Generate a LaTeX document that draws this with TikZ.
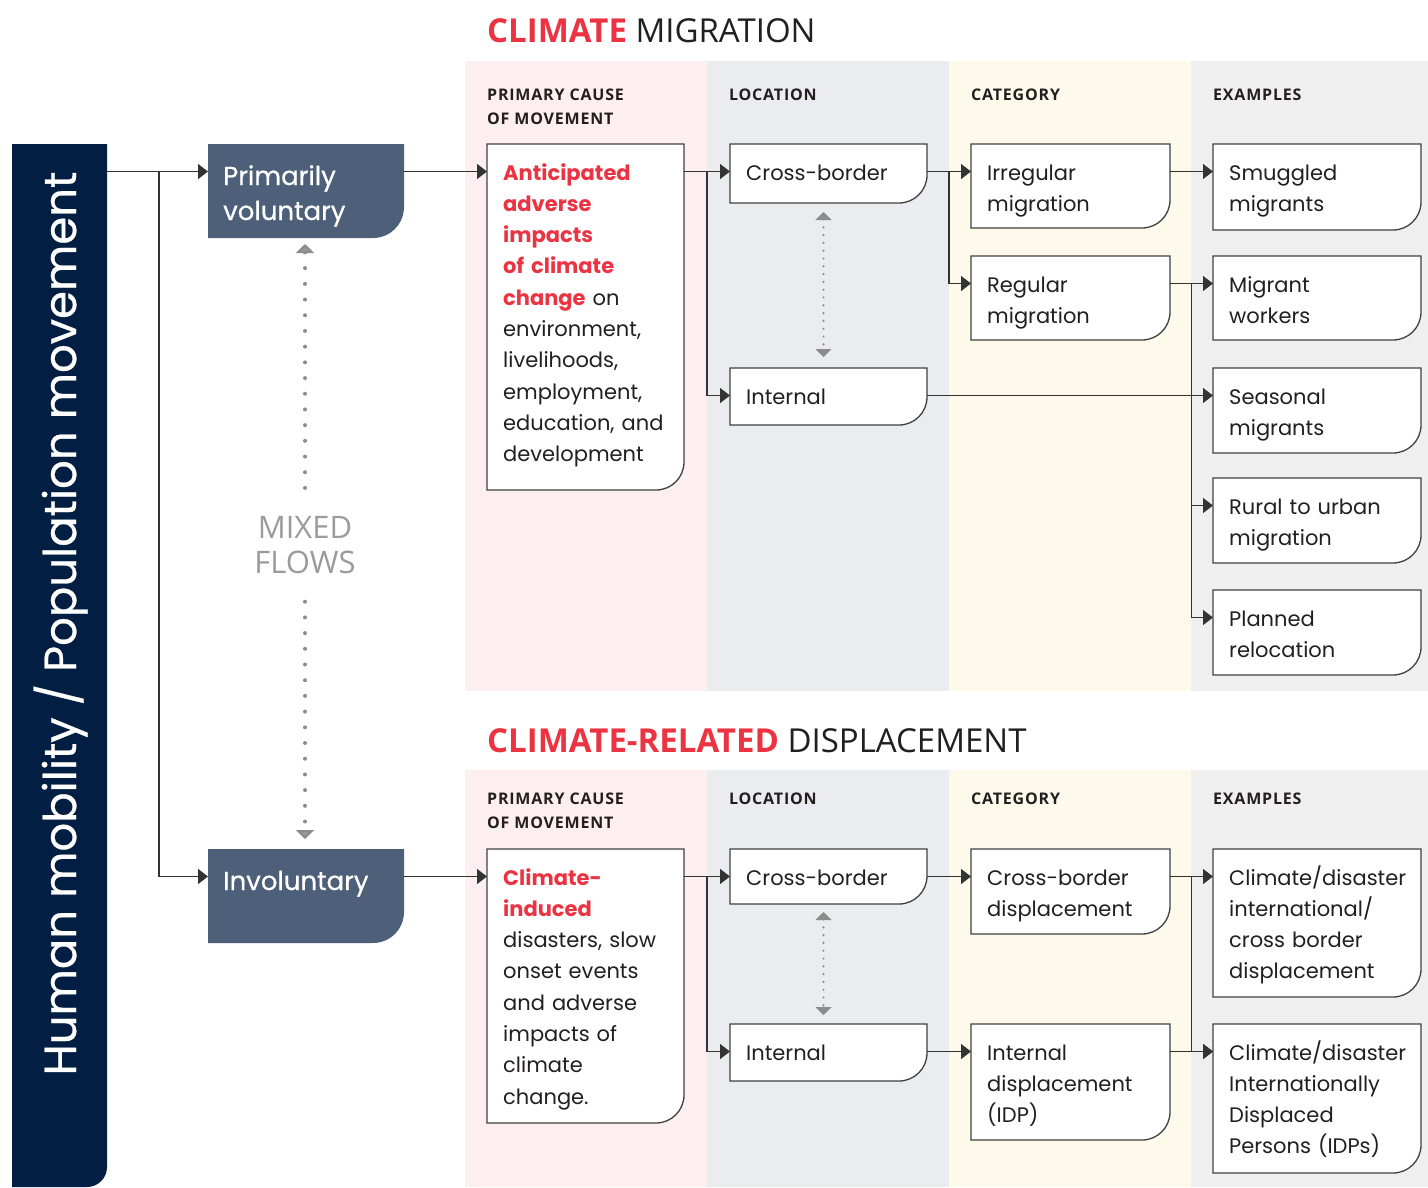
\documentclass[tikz,border=0pt]{standalone}
\usepackage{fontspec}
\setmainfont{Poppins}
\newfontfamily\medfont{Poppins}[FakeBold=0.6]
\newfontfamily\headfont{Open Sans}
\newfontfamily\headfontsp[LetterSpace=5]{Open Sans}
\usetikzlibrary{arrows.meta,calc}

\definecolor{navy}{HTML}{021E42}
\definecolor{slate}{HTML}{4D5F79}
\definecolor{accent}{HTML}{EC3342}
\definecolor{ink}{HTML}{231F20}
\definecolor{linecol}{HTML}{333333}
\definecolor{boxline}{HTML}{404040}
\definecolor{dotgrey}{HTML}{8C8C8C}
\definecolor{mixgrey}{HTML}{9B9B9B}
\definecolor{pinkbg}{HTML}{FDEEEF}
\definecolor{bluebg}{HTML}{EBECF0}
\definecolor{creambg}{HTML}{FDFAEB}
\definecolor{greybg}{HTML}{EFEFEF}

\pgfdeclarelayer{bands}
\pgfdeclarelayer{frames}
\pgfsetlayers{bands,frames,main}

\tikzset{
  conn/.style={draw=linecol, line width=1.4pt, -{Triangle[length=10pt,width=15pt]}},
  boxshape/.style={anchor=north west, inner sep=0pt, outer sep=0pt, shape=rectangle},
  cardtext/.style={anchor=base west, inner sep=0pt, align=left,
    font=\fontsize{21}{31.3}\selectfont, text=ink},
  navytext/.style={anchor=base west, inner sep=0pt, align=left,
    font=\medfont\fontsize{26}{35}\selectfont, text=white},
  cardline/.style={fill=white, draw=boxline, line width=1.3pt},
  navyfill/.style={fill=slate},
  colhead/.style={anchor=base west, inner sep=0pt,
    font=\headfontsp\bfseries\fontsize{16}{24}\selectfont, text=ink},
  title/.style={anchor=base west, inner sep=0pt,
    font=\headfont\fontsize{33}{40}\selectfont, text=ink},
  dotlink/.style={draw=dotgrey, line width=2.4pt, line cap=round,
    dash pattern=on 0pt off 7.8pt,
    {Triangle[length=8pt,width=16pt]}-{Triangle[length=8pt,width=16pt]}},
  flowdots/.style={draw=dotgrey, line width=4pt, line cap=round,
    dash pattern=on 0pt off 15.7pt},
}

% outline with a rounded lower right corner, taken from the node's anchors
\newcommand\cardframe[3]{%
  \begin{pgfonlayer}{frames}
  \path[#3] (#1.north west) -- (#1.north east) -- ([yshift=#2pt]#1.south east)
    arc[start angle=0,end angle=-90,radius=#2pt] -- (#1.south west) -- cycle;
  \end{pgfonlayer}}
\newcommand\ports[1]{%
  \coordinate (#1-in) at ([yshift=-27.5pt]#1.north west);
  \coordinate (#1-out) at ([yshift=-27.5pt]#1.north east);}
% text box: name, left, top, width, height, text
\newcommand\card[6]{%
  \node[boxshape, minimum width=#4pt, minimum height=#5pt] (#1) at (#2,-#3) {};
  \cardframe{#1}{28}{cardline}%
  \pgfmathsetmacro\tw{#4-32}%
  \node[cardtext, text width=\tw pt] (#1-t) at ([xshift=16pt,yshift=-36pt]#1.north west) {#6};
  \ports{#1}}
\newcommand\navycard[4]{%
  \node[boxshape, minimum width=196pt, minimum height=94pt] (#1) at (#2,-#3) {};
  \cardframe{#1}{31}{navyfill}%
  \node[navytext, text width=166pt] (#1-t) at ([xshift=15pt,yshift=-41pt]#1.north west) {#4};
  \ports{#1}}
\newcommand\red[1]{\textcolor{accent}{\bfseries #1}}

\begin{document}
\begin{tikzpicture}[x=1pt,y=1pt]
\useasboundingbox (0,0) rectangle (1428,-1187);

% column bands
\begin{pgfonlayer}{bands}
  \fill[pinkbg]  (465,-61) rectangle (707,-691);
  \fill[bluebg]  (707,-61) rectangle (949,-691);
  \fill[creambg] (949,-61) rectangle (1191,-691);
  \fill[greybg]  (1191,-61) rectangle (1428,-691);
  \fill[pinkbg]  (465,-770) rectangle (707,-1187);
  \fill[bluebg]  (707,-770) rectangle (949,-1187);
  \fill[creambg] (949,-770) rectangle (1191,-1187);
  \fill[greybg]  (1191,-770) rectangle (1428,-1187);
\end{pgfonlayer}

% titles and column heads
\node[title] (title1) at (487,-42) {\red{CLIMATE} MIGRATION};
\node[title] (title2) at (487,-752) {\red{CLIMATE-RELATED} DISPLACEMENT};
\foreach \y/\k in {100/a,804/b}{
  \node[colhead] (cause-\k) at (487,-\y) {PRIMARY CAUSE};
  \node[colhead] (move-\k) at (487,-\y-24) {OF MOVEMENT};
  \node[colhead] (loc-\k) at (729,-\y) {LOCATION};
  \node[colhead] (cat-\k) at (971,-\y) {CATEGORY};
  \node[colhead] (ex-\k) at (1213,-\y) {EXAMPLES};
}

% side bar
\fill[navy] (12,-144) -- (107,-144) -- (107,-1167)
  arc[start angle=0,end angle=-90,radius=20pt] -- (12,-1187) -- cycle;
\node[rotate=90, anchor=base, inner sep=0pt, text=white,
  font=\medfont\fontsize{45}{50}\selectfont] (bartext) at (76,-623.5)
  {Human mobility / Population movement};
\coordinate (barout) at (107,-171.5);
\coordinate (split) at (159,-171.5);

% voluntary / involuntary
\navycard{pv}{208}{144}{Primarily\\voluntary}
\navycard{inv}{208}{849}{Involuntary}
\node[font=\headfont\fontsize{31}{35}\selectfont, text=mixgrey, align=center,
  minimum height=112pt, inner sep=0pt] (mixed) at (305,-545.5) {MIXED\\FLOWS};

% climate migration
\card{causeA}{487}{144}{197}{346}{\red{Anticipated}\\\red{adverse}\\\red{impacts}\\
  \red{of climate}\\\red{change} on\\environment,\\livelihoods,\\employment,\\
  education, and\\development}
\card{cbA}{730}{144}{197}{59}{Cross-border}
\card{intA}{730}{368}{197}{57}{Internal}
\card{irr}{971}{144}{199}{84}{Irregular\\migration}
\card{reg}{971}{256}{199}{84}{Regular\\migration}
\card{smug}{1213}{144}{208}{86}{Smuggled\\migrants}
\card{work}{1213}{256}{208}{84}{Migrant\\workers}
\card{seas}{1213}{368}{208}{85}{Seasonal\\migrants}
\card{rural}{1213}{478}{208}{85}{Rural to urban\\migration}
\card{plan}{1213}{590}{208}{85}{Planned\\relocation}

% climate-related displacement
\card{causeB}{487}{849}{197}{274}{\red{Climate-}\\\red{induced}\\disasters, slow\\
  onset events\\and adverse\\impacts of\\climate\\change.}
\card{cbB}{730}{849}{197}{55}{Cross-border}
\card{intB}{730}{1024}{197}{57}{Internal}
\card{cbd}{971}{849}{199}{85}{Cross-border\\displacement}
\card{idp}{971}{1024}{199}{116}{Internal\\displacement\\(IDP)}
\card{exA}{1213}{849}{208}{148}{Climate/disaster\\international/\\cross border\\displacement}
\card{exB}{1213}{1024}{208}{149}{Climate/disaster\\Internationally\\Displaced\\Persons (IDPs)}

% connectors
\draw[conn] (barout) -- (pv-in);
\draw[conn] (split) |- (inv-in);
\draw[conn] (pv-out) -- (causeA-in);
\draw[conn] (inv-out) -- (causeB-in);

\draw[conn] (causeA-out) -- (cbA-in);
\draw[conn] ($(causeA-out)!.5!(cbA-in)$) |- (intA-in);
\draw[conn] (cbA-out) -- (irr-in);
\draw[conn] ($(cbA-out)!.5!(irr-in)$) |- (reg-in);
\draw[conn] (irr-out) -- (smug-in);
\draw[conn] (reg-out) -- (work-in);
\draw[conn] ($(reg-out)!.5!(work-in)$) |- (rural-in);
\draw[conn] ($(reg-out)!.5!(work-in)$) |- (plan-in);
\draw[conn] (intA-out) -- (seas-in);

\draw[conn] (causeB-out) -- (cbB-in);
\draw[conn] ($(causeB-out)!.5!(cbB-in)$) |- (intB-in);
\draw[conn] (cbB-out) -- (cbd-in);
\draw[conn] (intB-out) -- (idp-in);
\draw[conn] (cbd-out) -- (exA-in);
\draw[conn] ($(cbd-out)!.5!(exA-in)$) |- (exB-in);
\draw[conn] (idp-out) -- (exB-in);

% dotted two-way links
\draw[dotlink] ([xshift=-5pt,yshift=-9pt]cbA.south) -- ([xshift=-5pt,yshift=11pt]intA.north);
\draw[dotlink] ([xshift=-5pt,yshift=-8pt]cbB.south) -- ([xshift=-5pt,yshift=9pt]intB.north);
\draw[flowdots, {Triangle[length=9pt,width=18pt,fill=mixgrey]}-]
  ([xshift=-1pt,yshift=-6pt]pv.south) -- (mixed.north);
\draw[flowdots, -{Triangle[length=9pt,width=18pt,fill=mixgrey]}]
  (mixed.south) -- ([xshift=-1pt,yshift=10pt]inv.north);
\end{tikzpicture}
\end{document}
